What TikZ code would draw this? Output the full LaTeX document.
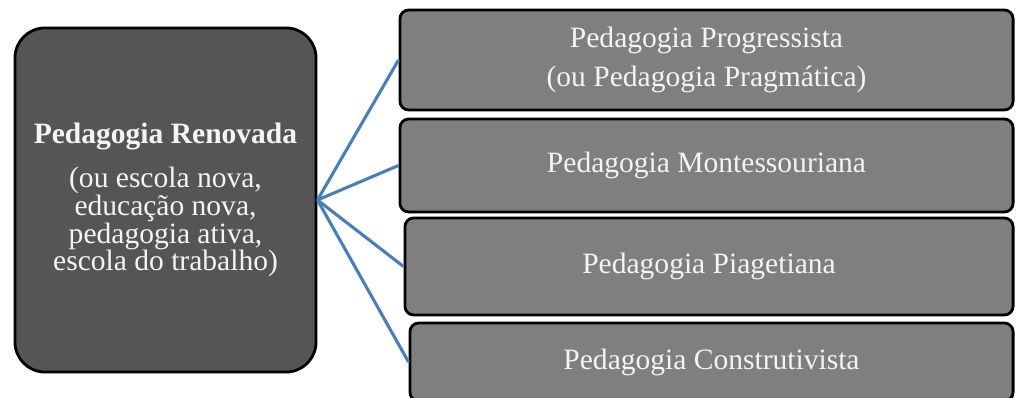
\documentclass[tikz,border=0pt]{standalone}
\usepackage{fontspec}
\setmainfont{Liberation Serif}
\definecolor{boxdark}{HTML}{555555}
\definecolor{boxgray}{HTML}{7F7F7F}
\definecolor{linkblue}{HTML}{4A7EBB}
\definecolor{textwhite}{HTML}{F4F4F4}
\begin{document}
\begin{tikzpicture}[x=0.025cm, y=-0.025cm,
        mainbox/.style={draw=black, line width=2pt, fill=boxdark, rounded corners=0.75cm,
            text=textwhite, align=center, inner sep=0pt, font=\fontsize{21}{19.6}\selectfont},
        subbox/.style={draw=black, line width=2pt, fill=boxgray, rounded corners=0.22cm,
            text=textwhite, align=center, inner sep=0pt, font=\fontsize{21}{27.7}\selectfont},
        link/.style={draw=linkblue, line width=2.2pt}]
                \useasboundingbox (0,0) rectangle (1016,398);
                
                % left box
                \node[mainbox, minimum width=7.525cm, minimum height=8.6cm] (renovada) at (165.5,200)
                    {\textbf{Pedagogia Renovada}\\[12pt](ou escola nova,\\educação nova,\\pedagogia ativa,\\escola do trabalho)};
                
                % right boxes
                \node[subbox, minimum width=15.325cm, minimum height=2.5cm] (progressista) at (706.5,60)
                    {Pedagogia Progressista\\(ou Pedagogia Pragmática)};
                \node[subbox, minimum width=15.325cm, minimum height=2.325cm] (montessori) at (706.5,165.5)
                    {Pedagogia Montessouriana};
                \node[subbox, minimum width=15.2cm, minimum height=2.425cm] (piaget) at (709,266.5)
                    {Pedagogia Piagetiana};
                \node[subbox, minimum width=15.075cm, minimum height=1.95cm] (construtivista) at (711.5,362)
                    {Pedagogia Construtivista};
                
                % connectors
                \foreach \sub in {progressista, montessori, piaget, construtivista}
                    \draw[link] (renovada.east) -- (\sub.west);
            \end{tikzpicture}
\end{document}
